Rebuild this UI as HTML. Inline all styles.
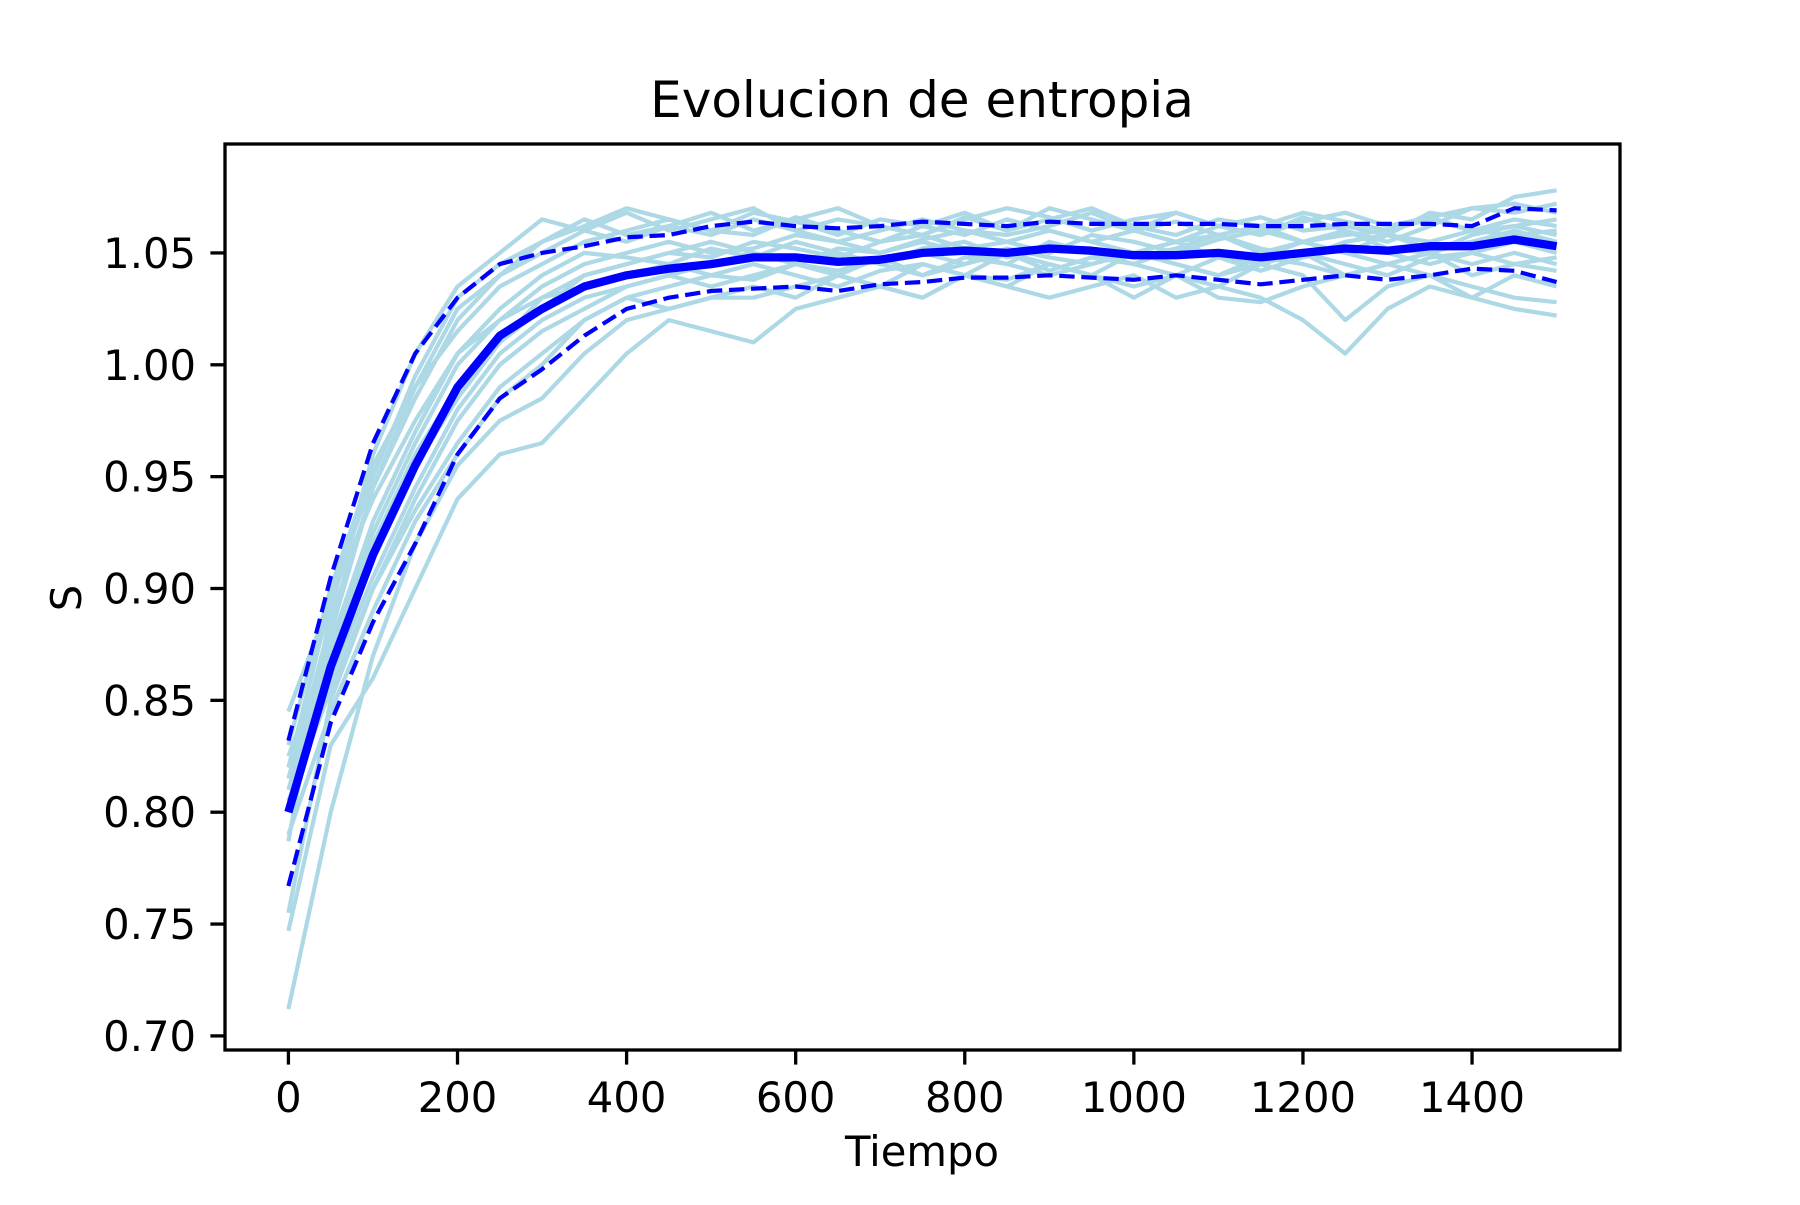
<!DOCTYPE html>
<html><head><meta charset="utf-8"><style>
html,body{margin:0;padding:0;background:#fff;}
svg text{font-family:"DejaVu Sans","Liberation Sans",sans-serif;fill:#000;}
</style></head>
<body>
<svg id="chart" width="1800" height="1200" viewBox="0 0 1800 1200" xmlns="http://www.w3.org/2000/svg">
<rect width="1800" height="1200" fill="#fff"/>
<text x="922" y="117" font-size="50" text-anchor="middle">Evolucion de entropia</text>
<g id="traces"></g>
<g id="stats"></g>
<rect x="225" y="144" width="1395" height="906" fill="none" stroke="#000" stroke-width="3.3"/>
<g id="xticks"></g>
<g id="yticks"></g>
<text x="922" y="1166" font-size="41.7" text-anchor="middle">Tiempo</text>
<text x="0" y="0" font-size="41.7" text-anchor="middle" transform="translate(81,598) rotate(-90)">S</text>
</svg>
<script>
const times=[0,50,100,150,200,250,300,350,400,450,500,550,600,650,700,750,800,850,900,950,1000,1050,1100,1150,1200,1250,1300,1350,1400,1450,1500];
const meanS=[0.80,0.865,0.915,0.955,0.99,1.013,1.025,1.035,1.040,1.043,1.045,1.048,1.048,1.046,1.047,1.050,1.051,1.050,1.052,1.051,1.049,1.049,1.050,1.048,1.050,1.052,1.051,1.053,1.053,1.056,1.053];
const upperS=[0.832,0.905,0.965,1.005,1.030,1.045,1.050,1.053,1.057,1.058,1.062,1.064,1.062,1.061,1.062,1.064,1.063,1.062,1.064,1.063,1.063,1.063,1.063,1.062,1.062,1.063,1.063,1.063,1.062,1.070,1.069];
const lowerS=[0.767,0.84,0.885,0.92,0.96,0.985,0.998,1.013,1.025,1.030,1.033,1.034,1.035,1.033,1.036,1.037,1.039,1.039,1.040,1.039,1.038,1.040,1.038,1.036,1.038,1.040,1.038,1.040,1.043,1.042,1.037];
const trace01=[0.712,0.80,0.87,0.92,0.955,0.975,0.985,1.005,1.020,1.025,1.030,1.030,1.035,1.040,1.035,1.045,1.040,1.050,1.045,1.040,1.050,1.045,1.040,1.045,1.050,1.040,1.045,1.050,1.045,1.050,1.045];
const trace02=[0.747,0.83,0.86,0.90,0.94,0.96,0.965,0.985,1.005,1.020,1.015,1.010,1.025,1.030,1.035,1.030,1.040,1.035,1.045,1.040,1.030,1.040,1.035,1.045,1.040,1.020,1.035,1.040,1.030,1.040,1.035];
const trace03=[0.755,0.85,0.90,0.935,0.965,0.99,1.005,1.020,1.030,1.025,1.030,1.035,1.030,1.040,1.035,1.030,1.040,1.035,1.030,1.035,1.040,1.030,1.035,1.030,1.020,1.005,1.025,1.035,1.030,1.025,1.022];
const trace04=[0.787,0.89,0.96,1.005,1.035,1.050,1.065,1.060,1.068,1.060,1.065,1.070,1.060,1.065,1.062,1.058,1.066,1.060,1.070,1.065,1.060,1.068,1.062,1.066,1.060,1.062,1.058,1.068,1.065,1.075,1.078];
const trace05=[0.80,0.88,0.945,0.99,1.025,1.040,1.050,1.060,1.055,1.062,1.058,1.065,1.060,1.055,1.060,1.065,1.060,1.058,1.062,1.068,1.060,1.055,1.062,1.058,1.066,1.060,1.055,1.062,1.070,1.068,1.072];
const trace06=[0.81,0.875,0.93,0.97,1.005,1.025,1.040,1.050,1.048,1.045,1.052,1.048,1.055,1.050,1.045,1.052,1.055,1.048,1.052,1.050,1.045,1.052,1.050,1.048,1.055,1.050,1.045,1.050,1.055,1.058,1.060];
const trace07=[0.82,0.87,0.92,0.96,0.99,1.010,1.025,1.040,1.045,1.050,1.048,1.055,1.052,1.048,1.055,1.058,1.052,1.055,1.060,1.055,1.050,1.055,1.058,1.052,1.048,1.055,1.058,1.052,1.055,1.060,1.055];
const trace08=[0.83,0.90,0.955,0.99,1.015,1.035,1.045,1.055,1.060,1.065,1.060,1.058,1.066,1.060,1.055,1.062,1.058,1.065,1.060,1.055,1.060,1.064,1.058,1.062,1.055,1.058,1.060,1.065,1.060,1.062,1.065];
const trace09=[0.845,0.895,0.94,0.975,1.005,1.020,1.030,1.035,1.040,1.045,1.040,1.038,1.045,1.042,1.048,1.040,1.045,1.050,1.042,1.048,1.045,1.040,1.048,1.045,1.050,1.045,1.040,1.048,1.050,1.045,1.048];
const trace10=[0.80,0.86,0.905,0.945,0.98,1.005,1.020,1.030,1.035,1.040,1.045,1.050,1.045,1.040,1.048,1.050,1.045,1.052,1.048,1.045,1.050,1.055,1.048,1.042,1.048,1.052,1.050,1.045,1.050,1.055,1.050];
const trace11=[0.79,0.845,0.89,0.93,0.96,0.985,1.000,1.020,1.030,1.035,1.040,1.045,1.040,1.035,1.042,1.045,1.040,1.038,1.045,1.040,1.035,1.040,1.030,1.028,1.035,1.040,1.045,1.040,1.035,1.030,1.028];
const trace12=[0.815,0.885,0.945,0.985,1.020,1.040,1.055,1.065,1.058,1.062,1.068,1.060,1.065,1.070,1.062,1.058,1.065,1.070,1.066,1.060,1.065,1.068,1.062,1.058,1.064,1.068,1.062,1.066,1.060,1.065,1.062];
const trace13=[0.825,0.875,0.925,0.965,1.000,1.020,1.035,1.045,1.050,1.055,1.050,1.052,1.058,1.055,1.050,1.056,1.060,1.055,1.050,1.058,1.055,1.050,1.056,1.060,1.055,1.050,1.058,1.055,1.060,1.058,1.055];
const trace14=[0.805,0.855,0.90,0.94,0.975,1.000,1.015,1.025,1.035,1.040,1.035,1.040,1.045,1.050,1.045,1.040,1.048,1.045,1.040,1.045,1.050,1.045,1.040,1.048,1.045,1.040,1.045,1.050,1.040,1.045,1.042];
const trace15=[0.80,0.87,0.915,0.955,0.985,1.010,1.030,1.040,1.045,1.050,1.055,1.050,1.045,1.052,1.050,1.055,1.050,1.045,1.055,1.050,1.048,1.052,1.058,1.050,1.055,1.060,1.052,1.050,1.058,1.062,1.058];
const trace16=[0.82,0.895,0.95,0.995,1.030,1.045,1.055,1.062,1.070,1.065,1.060,1.068,1.064,1.058,1.065,1.062,1.068,1.060,1.065,1.070,1.062,1.058,1.065,1.062,1.068,1.064,1.060,1.066,1.070,1.072,1.068];
const allTraces=[trace01,trace02,trace03,trace04,trace05,trace06,trace07,trace08,trace09,trace10,trace11,trace12,trace13,trace14,trace15,trace16];
const xTickValues=[0,200,400,600,800,1000,1200,1400];
const yTickValues=[0.70,0.75,0.80,0.85,0.90,0.95,1.00,1.05];

const NS='http://www.w3.org/2000/svg';
const AX={l:225,r:1620,t:144,b:1050};
const XMIN=-75,XMAX=1575,YMIN=0.6937,YMAX=1.0987;
function xs(v){return AX.l+(v-XMIN)/(XMAX-XMIN)*(AX.r-AX.l);}
function ys(v){return AX.b-(v-YMIN)/(YMAX-YMIN)*(AX.b-AX.t);}
function pathD(vals){return vals.map((v,i)=>(i?'L':'M')+xs(times[i]).toFixed(1)+','+ys(v).toFixed(1)).join(' ');}
function mk(tag,attrs,parent){const e=document.createElementNS(NS,tag);for(const k in attrs)e.setAttribute(k,attrs[k]);parent.appendChild(e);return e;}

const tg=document.getElementById('traces');
allTraces.forEach((tr,i)=>{
  const p=mk('path',{d:pathD(tr),fill:'none',stroke:'#add8e6','stroke-width':4.2,'stroke-linejoin':'round'},tg);
  
  
});
const sg=document.getElementById('stats');
const up=mk('path',{d:pathD(upperS),fill:'none',stroke:'#0000ff','stroke-width':4.2,'stroke-dasharray':'15.4 6.7'},sg);


const lo=mk('path',{d:pathD(lowerS),fill:'none',stroke:'#0000ff','stroke-width':4.2,'stroke-dasharray':'15.4 6.7'},sg);


const mn=mk('path',{d:pathD(meanS),fill:'none',stroke:'#0000ff','stroke-width':8.3,'stroke-linejoin':'round'},sg);



const xg=document.getElementById('xticks');
xTickValues.forEach(v=>{
  const x=xs(v);
  const t=mk('line',{x1:x,x2:x,y1:AX.b,y2:AX.b+14.6,stroke:'#000','stroke-width':3.3},xg);
  
  
  const l=mk('text',{x:x,y:1112,'font-size':41.7,'text-anchor':'middle'},xg);
  l.textContent=String(v);
  
  
});
const yg=document.getElementById('yticks');
yTickValues.forEach(v=>{
  const y=ys(v);
  const t=mk('line',{x1:AX.l-14.6,x2:AX.l,y1:y,y2:y,stroke:'#000','stroke-width':3.3},yg);
  
  
  const l=mk('text',{x:196,y:y+15,'font-size':41.7,'text-anchor':'end'},yg);
  l.textContent=v.toFixed(2);
  
  
});
</script>
</body></html>
